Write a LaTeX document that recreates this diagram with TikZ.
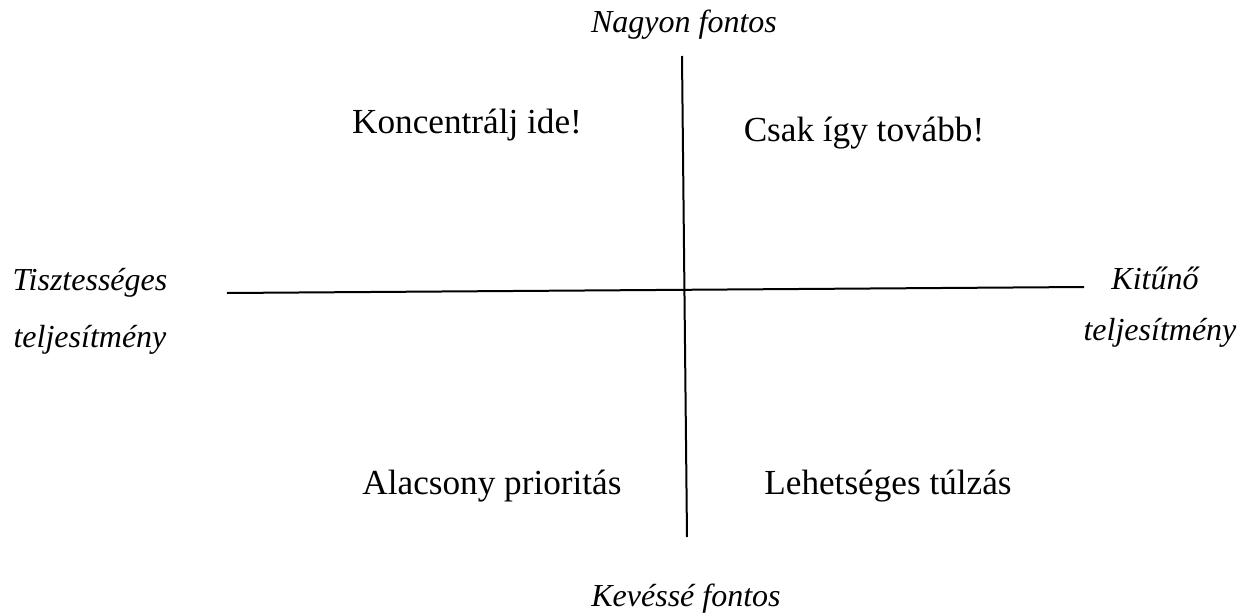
\documentclass[tikz,border=0pt]{standalone}
\usepackage{fontspec}
\setmainfont{Liberation Serif}
\usetikzlibrary{positioning}
\tikzset{
  axis/.style={draw=black,line width=1pt},
  quad/.style={font=\fontsize{17.6}{21}\selectfont,inner sep=0pt},
  pole/.style={font=\fontsize{16}{19}\selectfont\itshape,inner sep=0pt,align=center}
}
\begin{document}
\begin{tikzpicture}[x=0.5pt,y=-0.5pt]
  \useasboundingbox (0,0) rectangle (1244,616);
  % axes
  \coordinate (top) at (682,56);
  \coordinate (bottom) at (687,537);
  \coordinate (left) at (227,293);
  \coordinate (right) at (1084,287);
  \draw[axis] (top) -- (bottom);
  \draw[axis] (left) -- (right);
  % axis ends
  \node[pole] (important) at (684,25) {Nagyon fontos};
  \node[pole] (unimportant) at (686,599) {Kevéssé fontos};
  \node[pole] (fairA) at (90,283) {Tisztességes};
  \node[pole] (fairB) at (90,340) {teljesítmény};
  \node[pole] (excA) at (1155,278) {Kitűnő};
  \node[pole] (excB) at (1160,333) {teljesítmény};
  % quadrants
  \node[quad] (focus) at (467,125) {Koncentrálj ide!};
  \node[quad] (keep) at (864,133) {Csak így tovább!};
  \node[quad] (low) at (492,486) {Alacsony prioritás};
  \node[quad] (over) at (888,486) {Lehetséges túlzás};
\end{tikzpicture}
\end{document}
